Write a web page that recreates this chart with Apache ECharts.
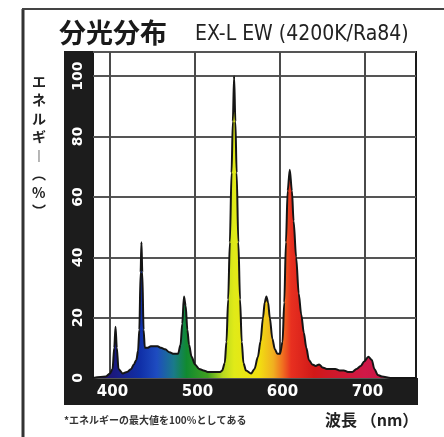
<!DOCTYPE html>
<html>
<head>
<meta charset="utf-8">
<script src="https://cdn.jsdelivr.net/npm/echarts@6/dist/echarts.min.js"></script>
<style>
  html, body { margin: 0; padding: 0; background: #fff; }
  #chart { width: 444px; height: 437px; }
</style>
</head>
<body>
<div id="chart"></div>
<script>
// ====== 数据 ======
const titleMain = '分光分布';
const titleSub = 'EX-L EW (4200K/Ra84)';
const yName = 'エネルギー(%)';
const xName = '波長 （nm）';
const note = '*エネルギーの最大値を100%としてある';

const xLabels = [400, 500, 600, 700];

// 波長 (nm)
const wavelength = [
  380, 395, 400, 403, 405, 406.5, 408, 410, 415, 420, 425, 428, 431, 433, 434.5, 436,
  437, 438, 439.5, 441, 444, 448, 452, 456, 460, 465, 470, 475, 480, 483, 485, 487,
  489, 491, 493, 496, 500, 505, 510, 515, 520, 525, 530, 532, 535, 537, 539, 541,
  543, 544.5, 546, 547.5, 549, 551, 553, 555, 557, 560, 566, 570, 574, 577, 580, 582,
  584, 586, 588, 591, 594, 597, 600, 603, 605, 607, 609, 611.5, 614, 616, 619, 622,
  625, 628, 631, 634, 638, 642, 646, 650, 655, 660, 665, 670, 675, 680, 685, 690,
  695, 699, 704, 708, 711, 715, 720, 730, 760
];
// 相対エネルギー (%)
const power = [
  0, 0.5, 1.5, 3, 10, 17, 10, 3, 1.5, 2, 3, 4.5, 6, 9, 16, 35,
  45, 35, 16, 10, 10, 10.5, 10.5, 10.5, 10, 9.5, 8.5, 8, 8, 11, 18, 27,
  24, 16, 11, 7, 4.5, 3, 2.5, 2, 2, 2, 2, 2.5, 5, 12, 26, 45,
  68, 85, 100, 85, 68, 45, 26, 12, 5, 2.5, 1.5, 3, 7, 12, 20, 25,
  27, 25, 20, 13, 9.5, 8, 8, 12, 25, 45, 62, 69, 62, 52, 40, 28,
  21, 15, 10, 6, 4.5, 4, 4.5, 3.5, 3, 3, 3, 2.5, 2.5, 2, 2, 3,
  4, 5.5, 7, 6, 3, 1, 0.5, 0, 0
];

// 波長ごとの塗り色
const spectrumColors = [
  [380, '#2a0a5a'], [405, '#1a1a80'], [436, '#1030a8'], [455, '#1e4cc0'],
  [475, '#1a7a8a'], [490, '#108a30'], [515, '#40a020'], [533, '#b8d820'],
  [546, '#e0ea18'], [575, '#f2e010'], [592, '#f0b020'], [603, '#f07020'],
  [613, '#e83020'], [640, '#d01818'], [700, '#d01848'], [760, '#c01040']
];

const xMin = 380, xMax = 760;

function initChart() {
  const dom = document.getElementById('chart');
  const myChart = echarts.init(dom, null, { renderer: 'canvas' });

  const stops = spectrumColors.map(([w, c]) => ({ offset: (w - xMin) / (xMax - xMin), color: c }));
  // 縦書き
  const vertName = yName.split('').map(ch => ({ 'ー': '︱', '(': '︵', ')': '︶' }[ch] || ch)).join('\n');

  const option = {
    backgroundColor: '#fff',
    animation: false,
    grid: {
      left: 93, right: 28, top: 52, bottom: 59,
      show: true, backgroundColor: '#fff', borderColor: '#1a1a1a', borderWidth: 2
    },
    xAxis: {
      type: 'value', min: xMin, max: xMax, interval: 20,
      axisLine: { show: false }, axisTick: { show: false },
      axisLabel: {
        formatter: v => xLabels.includes(v) ? String(v) : '',
        color: '#fff', fontSize: 15, fontWeight: 'bold', fontFamily: 'DejaVu Sans',
        margin: 7, padding: [0, 0, 0, 5]
      },
      splitLine: {
        lineStyle: { color: ['rgba(0,0,0,0)', '#4a4a4a', 'rgba(0,0,0,0)', 'rgba(0,0,0,0)', 'rgba(0,0,0,0)'], width: 2 }
      }
    },
    yAxis: {
      type: 'value', min: 0, max: 108, interval: 20,
      axisLine: { show: false }, axisTick: { show: false },
      axisLabel: {
        rotate: 90, showMaxLabel: false,
        color: '#fff', fontSize: 14, fontWeight: 'bold', fontFamily: 'DejaVu Sans',
        margin: 8
      },
      splitLine: { lineStyle: { color: '#555', width: 2 } }
    },
    graphic: [
      // 外枠
      { type: 'line', shape: { x1: 23, y1: 9, x2: 23, y2: 437 }, style: { stroke: '#333', lineWidth: 3 } },
      { type: 'line', shape: { x1: 22, y1: 9, x2: 444, y2: 9 }, style: { stroke: '#444', lineWidth: 2 } },
      // 目盛りの黒帯
      { type: 'rect', z: -1, shape: { x: 64, y: 51, width: 30, height: 354 }, style: { fill: '#1c1c1c' } },
      { type: 'rect', z: -1, shape: { x: 64, y: 378, width: 354, height: 27 }, style: { fill: '#1c1c1c' } },
      // タイトル
      { type: 'text', left: 59, top: 19, style: { text: titleMain, fontSize: 27, fontWeight: 'bold', fill: '#1a1a1a', fontFamily: 'Noto Sans CJK JP' } },
      { type: 'text', left: 195, top: 24, style: { text: titleSub, fontSize: 21, fill: '#222', fontFamily: "'DejaVu Sans Condensed', 'Liberation Sans Narrow', sans-serif" } },
      // 縦軸名
      { type: 'text', left: 32, top: 72, style: { text: vertName, fontSize: 14, lineHeight: 18.5, fontWeight: 'bold', fill: '#222', align: 'center', fontFamily: 'Noto Sans CJK JP' } },
      // 注記・横軸名
      { type: 'text', left: 64, top: 415, style: { text: note, fontSize: 10, fontWeight: 'bold', fill: '#333', fontFamily: 'Noto Sans CJK JP' } },
      { type: 'text', left: 325, top: 412, style: { text: xName, fontSize: 16, fontWeight: 'bold', fill: '#222', fontFamily: 'Noto Sans CJK JP' } }
    ],
    series: [{
      type: 'line',
      data: wavelength.map((w, i) => [w, power[i]]),
      symbol: 'none',
      smooth: 0.3, smoothMonotone: 'x',
      lineStyle: { color: '#151515', width: 2 },
      areaStyle: { color: new echarts.graphic.LinearGradient(0, 0, 1, 0, stops), opacity: 1 },
      silent: true
    }]
  };

  myChart.setOption(option);
  return myChart;
}

window.onload = () => {
  const chart = initChart();
  window.addEventListener('resize', () => chart.resize());
};
</script>
</body>
</html>
